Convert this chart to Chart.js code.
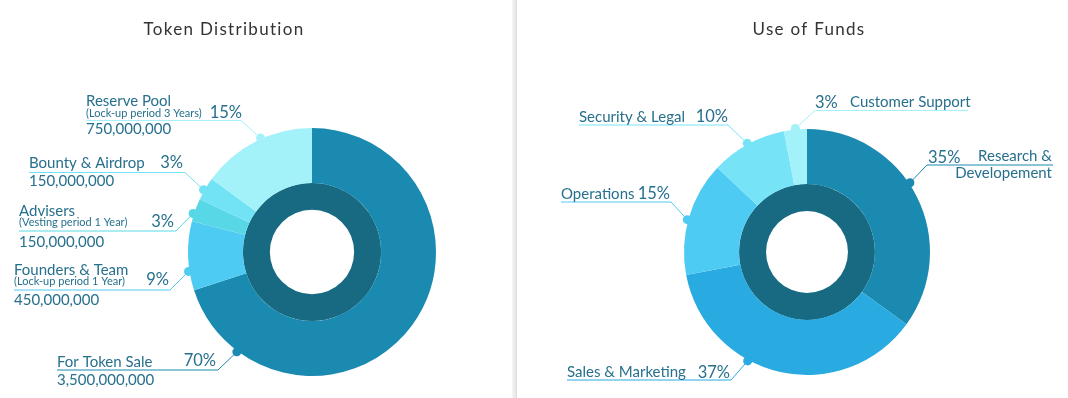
<!DOCTYPE html>
<html>
<head>
<meta charset="utf-8">
<script src="https://cdn.jsdelivr.net/npm/chart.js@4.4.1/dist/chart.umd.min.js"></script>
<style>
  html, body { margin: 0; padding: 0; background: #ffffff; }
  body { width: 1068px; height: 398px; position: relative; overflow: hidden; }
  canvas { position: absolute; top: 0; }
  #c1 { left: 0; }
  #c2 { left: 517px; }
  #divider { position: absolute; left: 512px; top: 0; width: 5px; height: 398px;
             background: linear-gradient(to right, #f6f6f6, #e9e9e9 60%, #dcdcdc); }
</style>
</head>
<body>
<canvas id="c1" width="512" height="398"></canvas>
<div id="divider"></div>
<canvas id="c2" width="551" height="398"></canvas>
<script>
// ---------- DATA ----------
const tokenTitle = 'Token Distribution';
const tokenLabels = ['For Token Sale', 'Founders & Team', 'Advisers', 'Bounty & Airdrop', 'Reserve Pool'];
const tokenNotes = ['', '(Lock-up period 1 Year)', '(Vesting period 1 Year)', '', '(Lock-up period 3 Years)'];
const tokenAmounts = ['3,500,000,000', '450,000,000', '150,000,000', '150,000,000', '750,000,000'];
const tokenShares = [70, 9, 3, 3, 15];

const fundTitle = 'Use of Funds';
const fundLabels = [['Research &', 'Developement'], ['Sales & Marketing'], ['Operations'], ['Security & Legal'], ['Customer Support']];
const fundShares = [35, 37, 15, 10, 3];

// ---------- STYLE ----------
const tokenColors = ['#1b8ab0', '#4ecbf2', '#58d8e6', '#72e2f5', '#a3f1f9'];
const fundColors = ['#1b8ab0', '#29aae1', '#4ecbf2', '#76e3f7', '#a3f1f9'];
const ringColor = '#176a82';
const textColor = '#27708d';
const FONT = 'Lato, "Open Sans", sans-serif';

// label layout (canvas-local pixel positions), one per slice
const tokenLayout = [
  { frac: 0.861, uy: 370, x1: 57, x2: 218, join: 'right', name: [57, 367], pct: [216, 366, 'right'], value: [57, 385] },
  { frac: 0.28, uy: 290, x1: 14, x2: 170, join: 'right', name: [14, 275], note: [14, 284.5], pct: [169, 285, 'right'], value: [14, 305] },
  { frac: 0.33, uy: 231, x1: 19, x2: 176, join: 'right', name: [19, 216], note: [19, 226], pct: [174, 227, 'right'], value: [19, 246.5] },
  { frac: 0.43, uy: 172.5, x1: 29, x2: 185, join: 'right', name: [29, 167.5], pct: [183, 168, 'right'], value: [29, 186] },
  { frac: 0.55, uy: 120.5, x1: 86, x2: 241, join: 'right', name: [86, 106], note: [86, 117], pct: [242, 118, 'right'], value: [86, 134] }
];
const OFF = 517;
const fundLayout = [
  { frac: 0.445, uy: 165, x1: 927 - OFF, x2: 1053 - OFF, join: 'left', pct: [928 - OFF, 162.5, 'left'], name: [1052 - OFF, 161, 'right', 16.5] },
  { frac: 0.62, uy: 380, x1: 567 - OFF, x2: 731 - OFF, join: 'right', name: [567 - OFF, 377], pct: [730 - OFF, 378, 'right'] },
  { frac: 0.48, uy: 202, x1: 561 - OFF, x2: 671 - OFF, join: 'right', name: [561 - OFF, 198.5], pct: [670 - OFF, 199, 'right'] },
  { frac: 0.5, uy: 125, x1: 579 - OFF, x2: 728 - OFF, join: 'right', name: [579 - OFF, 121.5], pct: [728 - OFF, 122, 'right'] },
  { frac: 0.5, uy: 110.5, x1: 815 - OFF, x2: 968 - OFF, join: 'left', pct: [815 - OFF, 108, 'left'], name: [850 - OFF, 106.5] }
];

function labelPlugin(title, titleX, names, notes, values, layout, colors) {
  return {
    id: 'leaderLabels',
    afterDatasetsDraw(chart) {
      const ctx = chart.ctx;
      const meta = chart.getDatasetMeta(0);
      const data = chart.data.datasets[0].data;
      ctx.save();
      // title
      ctx.fillStyle = '#333333';
      ctx.font = '17px ' + FONT;
      ctx.textAlign = 'center';
      ctx.textBaseline = 'alphabetic';
      if ('letterSpacing' in ctx) ctx.letterSpacing = '1.3px';
      ctx.fillText(title, titleX, 35);
      if ('letterSpacing' in ctx) ctx.letterSpacing = '0px';

      meta.data.forEach((arc, i) => {
        const L = layout[i];
        const a = arc.startAngle + L.frac * (arc.endAngle - arc.startAngle);
        const r = arc.outerRadius + 1;
        const dx = arc.x + r * Math.cos(a);
        const dy = arc.y + r * Math.sin(a);
        const jx = L.join === 'right' ? L.x2 : L.x1;
        // leader line
        ctx.strokeStyle = colors[i];
        ctx.lineWidth = 1;
        ctx.beginPath();
        ctx.moveTo(L.x1, L.uy);
        ctx.lineTo(L.x2, L.uy);
        ctx.moveTo(jx, L.uy);
        ctx.lineTo(dx, dy);
        ctx.stroke();
        // dot
        ctx.fillStyle = colors[i];
        ctx.beginPath();
        ctx.arc(dx, dy, 4.5, 0, Math.PI * 2);
        ctx.fill();
        // texts
        ctx.fillStyle = textColor;
        ctx.textBaseline = 'alphabetic';
        const nameLines = Array.isArray(names[i]) ? names[i] : [names[i]];
        ctx.font = '15px ' + FONT;
        ctx.textAlign = L.name[2] || 'left';
        nameLines.forEach((t, k) => ctx.fillText(t, L.name[0], L.name[1] + k * (L.name[3] || 16)));
        if (L.note && notes && notes[i]) {
          ctx.font = '11px ' + FONT;
          ctx.textAlign = 'left';
          ctx.fillText(notes[i], L.note[0], L.note[1]);
        }
        if (L.value && values) {
          ctx.font = '15px ' + FONT;
          ctx.textAlign = 'left';
          ctx.fillText(values[i], L.value[0], L.value[1]);
        }
        ctx.font = '16.5px ' + FONT;
        ctx.textAlign = L.pct[2];
        ctx.fillText(data[i] + '%', L.pct[0], L.pct[1]);
      });
      ctx.restore();
    }
  };
}

function makeChart(id, labels, shares, colors, padding, cutout, plugin) {
  return new Chart(document.getElementById(id), {
    type: 'doughnut',
    data: {
      labels: labels.map(l => Array.isArray(l) ? l.join(' ') : l),
      datasets: [
        { data: shares, backgroundColor: colors, borderWidth: 0, weight: 55, hoverOffset: 0 },
        { data: [100], backgroundColor: [ringColor], borderWidth: 0, weight: 27, hoverOffset: 0 }
      ]
    },
    options: {
      responsive: false,
      animation: false,
      events: [],
      cutout: cutout,
      layout: { padding: padding },
      plugins: { legend: { display: false }, tooltip: { enabled: false }, title: { display: false } }
    },
    plugins: [plugin]
  });
}

makeChart('c1', tokenLabels, tokenShares, tokenColors,
  { left: 188, right: 76, top: 128, bottom: 22 }, '34%',
  labelPlugin(tokenTitle, 224, tokenLabels, tokenNotes, tokenAmounts, tokenLayout, tokenColors));

makeChart('c2', fundLabels, fundShares, fundColors,
  { left: 167, right: 138, top: 129, bottom: 23 }, '33.3%',
  labelPlugin(fundTitle, 809 - OFF, fundLabels, null, null, fundLayout, fundColors));
</script>
</body>
</html>
